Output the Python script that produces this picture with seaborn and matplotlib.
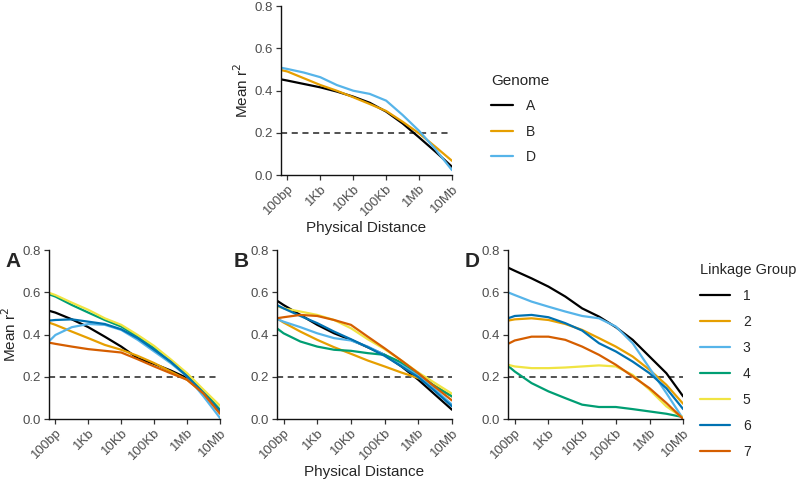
import pandas as pd
import matplotlib.pyplot as plt
import seaborn as sns
from matplotlib.ticker import FixedLocator, NullLocator

sns.set_style("white")
plt.rcParams['font.family'] = ['Liberation Sans', 'DejaVu Sans']

distance = [63, 100, 316, 1000, 3162, 10000, 31623, 100000, 316228,
            1000000, 3162278, 10000000]

# Genome-wide means
genome_A = [0.454, 0.448, 0.432, 0.416, 0.396, 0.372, 0.343, 0.301, 0.245, 0.179, 0.111, 0.040]
genome_B = [0.498, 0.491, 0.459, 0.427, 0.400, 0.369, 0.337, 0.304, 0.253, 0.198, 0.134, 0.068]
genome_D = [0.509, 0.503, 0.486, 0.464, 0.427, 0.400, 0.385, 0.353, 0.285, 0.210, 0.122, 0.024]

# Linkage groups, A genome
A_lg = {
    '1': [0.513, 0.504, 0.472, 0.435, 0.390, 0.343, 0.288, 0.261, 0.230, 0.194, 0.131, 0.036],
    '2': [0.457, 0.446, 0.414, 0.383, 0.351, 0.328, 0.299, 0.265, 0.225, 0.186, 0.123, 0.028],
    '3': [0.367, 0.398, 0.435, 0.450, 0.446, 0.422, 0.375, 0.320, 0.265, 0.202, 0.107, 0.005],
    '4': [0.591, 0.580, 0.540, 0.504, 0.469, 0.438, 0.390, 0.335, 0.272, 0.209, 0.131, 0.044],
    '5': [0.598, 0.587, 0.551, 0.517, 0.477, 0.446, 0.398, 0.346, 0.283, 0.217, 0.139, 0.063],
    '6': [0.466, 0.469, 0.472, 0.461, 0.450, 0.425, 0.383, 0.328, 0.272, 0.202, 0.123, 0.036],
    '7': [0.362, 0.356, 0.343, 0.331, 0.323, 0.315, 0.283, 0.249, 0.217, 0.186, 0.120, 0.025],
}

# Linkage groups, B genome
B_lg = {
    '1': [0.561, 0.540, 0.493, 0.446, 0.406, 0.375, 0.340, 0.304, 0.249, 0.186, 0.115, 0.044],
    '2': [0.477, 0.457, 0.414, 0.375, 0.340, 0.309, 0.277, 0.249, 0.220, 0.194, 0.157, 0.107],
    '3': [0.474, 0.461, 0.435, 0.406, 0.383, 0.372, 0.343, 0.304, 0.261, 0.205, 0.139, 0.068],
    '4': [0.430, 0.406, 0.367, 0.343, 0.328, 0.323, 0.312, 0.304, 0.268, 0.217, 0.154, 0.107],
    '5': [0.535, 0.524, 0.509, 0.493, 0.469, 0.430, 0.378, 0.331, 0.277, 0.220, 0.170, 0.120],
    '6': [0.540, 0.524, 0.488, 0.454, 0.414, 0.378, 0.340, 0.299, 0.249, 0.198, 0.131, 0.060],
    '7': [0.477, 0.482, 0.493, 0.488, 0.469, 0.446, 0.390, 0.335, 0.277, 0.217, 0.151, 0.088],
}

# Linkage groups, D genome
D_lg = {
    '1': [0.717, 0.702, 0.666, 0.627, 0.580, 0.524, 0.485, 0.435, 0.375, 0.296, 0.217, 0.107],
    '2': [0.466, 0.472, 0.477, 0.469, 0.450, 0.422, 0.383, 0.343, 0.296, 0.233, 0.162, 0.072],
    '3': [0.600, 0.587, 0.556, 0.532, 0.509, 0.488, 0.477, 0.438, 0.359, 0.241, 0.123, 0.000],
    '4': [0.252, 0.225, 0.170, 0.131, 0.099, 0.068, 0.057, 0.057, 0.047, 0.036, 0.025, 0.009],
    '5': [0.257, 0.249, 0.241, 0.241, 0.244, 0.249, 0.254, 0.249, 0.209, 0.139, 0.060, 0.005],
    '6': [0.477, 0.488, 0.493, 0.482, 0.454, 0.419, 0.359, 0.320, 0.272, 0.217, 0.146, 0.047],
    '7': [0.356, 0.372, 0.390, 0.390, 0.375, 0.343, 0.304, 0.257, 0.202, 0.146, 0.076, 0.000],
}

tick_pos = [100, 1000, 10000, 100000, 1000000, 10000000]
tick_labels = ['100bp', '1Kb', '10Kb', '100Kb', '1Mb', '10Mb']

okabe = ['#000000', '#E69F00', '#56B4E9', '#009E73', '#F0E442', '#0072B2', '#D55E00']


def long_form(groups, name):
    rows = []
    for key, vals in groups.items():
        for d, v in zip(distance, vals):
            rows.append({'distance': d, 'r2': v, name: key})
    return pd.DataFrame(rows)


def style_axis(ax, ylabel=True, xlabel=False):
    ax.set_xscale('log')
    ax.set_xlim(distance[0], distance[-1])
    ax.set_ylim(0, 0.8)
    ax.axhline(0.2, color='#222222', ls=(0, (4, 3)), lw=1.1, zorder=0)
    ax.xaxis.set_major_locator(FixedLocator(tick_pos))
    ax.xaxis.set_minor_locator(NullLocator())
    ax.set_xticklabels(tick_labels, rotation=45, ha='right', rotation_mode='anchor')
    ax.set_yticks([0, 0.2, 0.4, 0.6, 0.8])
    ax.set_yticklabels(['0.0', '0.2', '0.4', '0.6', '0.8'])
    ax.tick_params(axis='both', length=3.5, width=0.9, colors='#333333', pad=2,
                   labelcolor='#4d4d4d', labelsize=9.5, bottom=True, left=True)
    for s in ['top', 'right']:
        ax.spines[s].set_visible(False)
    for s in ['left', 'bottom']:
        ax.spines[s].set_color('#111111')
        ax.spines[s].set_linewidth(1.0)
    ax.set_ylabel('Mean r$^2$' if ylabel else '', fontsize=11, labelpad=3)
    ax.set_xlabel('Physical Distance' if xlabel else '', fontsize=11, labelpad=2)


fig = plt.figure(figsize=(8, 4.8), dpi=100)
ax_top = fig.add_axes([0.351, 0.635, 0.214, 0.352])
ax_a = fig.add_axes([0.061, 0.127, 0.214, 0.352])
ax_b = fig.add_axes([0.346, 0.127, 0.219, 0.352])
ax_d = fig.add_axes([0.635, 0.127, 0.219, 0.352])

genome_df = long_form({'A': genome_A, 'B': genome_B, 'D': genome_D}, 'Genome')
sns.lineplot(data=genome_df, x='distance', y='r2', hue='Genome',
             palette=okabe[:3], lw=1.6, ax=ax_top)
style_axis(ax_top, ylabel=True, xlabel=True)
h, l = ax_top.get_legend_handles_labels()
ax_top.get_legend().remove()
fig.legend(h, l, title='Genome', loc='upper left', bbox_to_anchor=(0.598, 0.872),
           frameon=False, fontsize=10, title_fontsize=11, handlelength=1.6,
           labelspacing=0.82, handletextpad=0.9, alignment='left')

for ax, groups, letter, ylab, xlab in [(ax_a, A_lg, 'A', True, False),
                                       (ax_b, B_lg, 'B', False, True),
                                       (ax_d, D_lg, 'D', False, False)]:
    df = long_form(groups, 'Linkage Group')
    sns.lineplot(data=df, x='distance', y='r2', hue='Linkage Group',
                 palette=okabe, lw=1.6, ax=ax)
    style_axis(ax, ylabel=ylab, xlabel=xlab)
    if ax is ax_d:
        h, l = ax.get_legend_handles_labels()
    ax.get_legend().remove()
    bb = ax.get_position()
    fig.text(bb.x0 - 0.054, bb.y1 - 0.005, letter, fontsize=15, fontweight='bold',
             ha='left', va='top')

fig.legend(h, l, title='Linkage Group', loc='upper left', bbox_to_anchor=(0.859, 0.478),
           frameon=False, fontsize=10, title_fontsize=10.5, handlelength=2.2,
           labelspacing=0.86, handletextpad=0.9, alignment='left')

fig.savefig('out.png', dpi=100)
